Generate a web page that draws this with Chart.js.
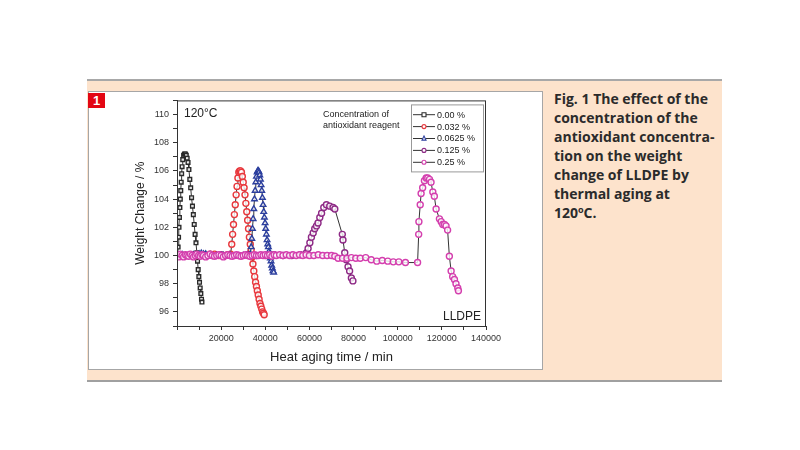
<!DOCTYPE html>
<html><head><meta charset="utf-8">
<script src="https://cdn.jsdelivr.net/npm/chart.js@4.4.1/dist/chart.umd.min.js"></script>
<style>
html,body{margin:0;padding:0;background:#fff;width:800px;height:450px;overflow:hidden;}
#panel{position:absolute;left:87px;top:79px;width:635px;height:299px;background:#fde3cc;border-top:2px solid #a8a8a8;border-bottom:2px solid #a0a0a0;}
#box{position:absolute;left:88px;top:91px;width:455px;height:279px;background:#fff;border:1px solid #a6a6a6;box-sizing:border-box;}
#badge{position:absolute;left:88px;top:93px;width:17px;height:15px;background:#e30613;color:#fff;font:bold 13px 'Liberation Sans',Arial,sans-serif;text-align:center;line-height:15px;z-index:3;}
#cap{position:absolute;left:554px;top:89px;font:bold 14px 'Open Sans',sans-serif;line-height:19px;color:#2b2b2b;white-space:nowrap;}
#cap sup{font-size:9px;vertical-align:5px;line-height:0;}
#c{position:absolute;left:88px;top:91px;z-index:2;}
</style></head>
<body>
<div id="panel"></div>
<div id="box"></div>
<canvas id="c" width="455" height="279"></canvas>
<div id="badge">1</div>
<div id="cap">Fig. 1 The effect of the<br>concentration of the<br>antioxidant concentra-<br>tion on the weight<br>change of LLDPE by<br>thermal aging at<br>120<sup>o</sup>C.</div>
<script>
// ---- data (heat aging time / min, weight change / %) ----
const seriesNames = ['0.00 %', '0.032 %', '0.0625 %', '0.125 %', '0.25 %'];

const tBlack = [300,500,700,900,1100,1300,1500,1700,1900,2100,2300,2600,3000,3400,3800,4200,4600,5000,5400,5800,6200,6600,7000,7400,7800,8200,8600,9000,9300,9600,9900,10200,10500,10800,11100,11300];
const wBlack = [100.0,100.6,101.3,102.0,102.7,103.4,104.0,104.6,105.2,105.8,106.3,106.8,107.1,107.2,107.2,107.1,106.9,106.6,106.1,105.4,104.8,104.1,103.5,102.9,102.2,101.5,100.9,100.2,99.6,99.0,98.5,98.1,97.7,97.3,96.9,96.7];

const tRed = [0,3000,6000,9000,12000,15000,17000,19000,21000,23000,24300,24800,25200,25600,26000,26400,26800,27200,27600,28000,28400,28800,29200,29600,30000,30400,30800,31200,31600,32000,32400,32800,33200,33600,34000,34400,34800,35200,35600,36000,36400,36800,37200,37600,38000,38400,38800,39200,39500];
const wRed = [100.0,100.0,100.05,100.0,100.05,100.1,100.1,100.0,100.0,100.05,100.1,100.8,101.5,102.2,102.9,103.6,104.3,104.9,105.5,105.9,106.0,106.0,105.9,105.6,105.2,104.8,104.3,103.7,103.1,102.5,101.9,101.3,100.8,100.4,99.9,99.4,98.9,98.5,98.1,97.8,97.5,97.2,96.9,96.6,96.4,96.2,96.0,95.9,95.8];

const tBlue = [0,2500,5000,7500,10000,11000,12000,13000,15000,18000,21000,24000,27000,30000,32000,33200,33600,33900,34200,34500,34800,35100,35400,35700,36000,36300,36600,36900,37200,37500,37800,38100,38400,38700,39000,39300,39600,39900,40200,40500,40800,41100,41400,41700,42000,42300,42600,42900,43200,43500,43800];
const wBlue = [100.0,100.05,100.0,100.05,100.1,100.15,100.1,100.1,100.05,100.0,100.0,100.05,100.0,100.0,100.05,100.1,100.6,101.2,101.9,102.6,103.3,104.0,104.6,105.2,105.6,105.9,106.0,106.0,105.9,105.7,105.4,105.0,104.6,104.1,103.6,103.1,102.7,102.3,101.9,101.5,101.1,100.8,100.6,100.3,100.1,99.8,99.6,99.3,99.1,98.9,98.8];

const tPurple = [0,4000,8000,12000,16000,20000,24000,28000,32000,36000,40000,44000,48000,52000,56000,58700,59400,60200,60900,61700,62400,63200,63900,64700,65500,66500,67700,69200,70700,71500,74900,75200,76000,76700,77500,78200,79000,79700];
const wPurple = [100.0,100.0,100.05,100.0,100.0,100.05,100.0,100.0,100.05,100.0,100.0,100.05,100.0,100.0,100.05,100.2,100.5,100.9,101.3,101.6,101.9,102.1,102.3,102.7,103.0,103.4,103.6,103.5,103.4,103.3,101.5,101.1,100.2,99.7,99.2,98.9,98.4,98.2];

const tMagenta = [0,800,1500,2300,3000,3800,4500,5300,6000,6800,7500,8300,9000,9800,10500,11300,12000,13000,14000,15000,16000,17000,18000,19000,20000,21000,22000,23000,24000,25000,26000,27000,28000,29000,30000,31000,32000,33000,34000,35000,36000,37000,38000,39000,40000,41000,42000,43000,44000,45000,46500,48000,49500,51000,52500,54000,55500,57000,58500,60000,62000,64000,66000,68000,70000,71500,73000,75000,77000,79000,81000,83000,85500,88000,90500,93000,95500,98000,100500,103500,109000,109500,109600,110200,110600,111300,112100,112900,113600,114400,115100,115900,116600,117400,118900,119700,120400,121200,121900,122600,123400,124200,124900,125700,126400,127200,127500];
const wMagenta = [100.0,99.9,100.1,100.0,99.9,100.05,100.0,99.95,100.1,100.0,99.9,100.0,100.1,100.0,99.95,100.05,100.0,99.9,100.0,100.1,100.0,99.95,100.0,100.05,100.0,99.9,100.0,100.05,100.0,99.95,100.0,100.05,100.0,99.95,100.0,100.05,100.0,99.95,100.0,100.05,100.0,100.0,100.05,100.0,100.05,100.0,100.05,99.95,100.05,100.0,100.05,100.0,100.05,100.0,100.05,100.0,100.05,100.0,100.05,100.0,100.0,100.05,100.0,100.0,100.0,99.95,99.8,99.8,99.8,99.85,99.8,99.8,99.85,99.7,99.6,99.65,99.6,99.55,99.55,99.5,99.5,101.5,102.4,103.6,104.4,104.8,105.3,105.5,105.5,105.4,105.2,104.5,104.2,103.3,102.6,102.4,102.2,102.2,102.1,101.8,99.95,98.9,98.5,98.3,98.0,97.7,97.5];

const xTickLabels = ['20000','40000','60000','80000','100000','120000','140000'];
const yTickLabels = ['96','98','100','102','104','106','108','110'];

const colors = ['#2a2a2a', '#e8383d', '#2c3f9e', '#8e2a86', '#d43fae'];
const styles = ['rect', 'circle', 'triangle', 'circle', 'circle'];
const tArr = [tBlack, tRed, tBlue, tPurple, tMagenta];
const wArr = [wBlack, wRed, wBlue, wPurple, wMagenta];
const orders = [5, 4, 3, 2, 1];

const datasets = seriesNames.map((name, i) => ({
  label: name,
  data: tArr[i].map((x, j) => ({x: x, y: wArr[i][j]})),
  showLine: true,
  borderColor: '#333',
  borderWidth: 1,
  pointStyle: styles[i],
  pointRadius: styles[i] === 'rect' ? 2.6 : (styles[i] === 'triangle' ? 3.2 : 3),
  pointBorderColor: colors[i],
  pointBorderWidth: 1.4,
  pointBackgroundColor: 'rgba(255,255,255,0.8)',
  order: orders[i]
}));

function mark(ctx, style, x, y, r, color) {
  ctx.save();
  ctx.strokeStyle = color; ctx.fillStyle = '#fff'; ctx.lineWidth = 1.1;
  ctx.beginPath();
  if (style === 'rect') ctx.rect(x - r, y - r, 2 * r, 2 * r);
  else if (style === 'triangle') { ctx.moveTo(x, y - r * 1.2); ctx.lineTo(x + r, y + r * 0.8); ctx.lineTo(x - r, y + r * 0.8); ctx.closePath(); }
  else ctx.arc(x, y, r, 0, Math.PI * 2);
  ctx.fill(); ctx.stroke(); ctx.restore();
}

const decor = {
  id: 'decor',
  afterDraw(chart) {
    const ctx = chart.ctx, a = chart.chartArea;
    ctx.save();
    ctx.strokeStyle = '#333'; ctx.lineWidth = 1;
    ctx.strokeRect(a.left + 0.5, a.top + 0.5, a.right - a.left - 1, a.bottom - a.top);
    ctx.fillStyle = '#222';
    ctx.textBaseline = 'middle';
    ctx.font = '12px "Liberation Sans", Arial, sans-serif';
    ctx.textAlign = 'left';
    ctx.fillText('120°C', a.left + 7, a.top + 13);
    ctx.textAlign = 'right';
    ctx.fillText('LLDPE', a.right - 5, a.bottom - 9);
    ctx.font = '9px "Liberation Sans", Arial, sans-serif';
    ctx.textAlign = 'left';
    ctx.fillText('Concentration of', a.left + 146, a.top + 14);
    ctx.fillText('antioxidant reagent', a.left + 146, a.top + 25);
    // legend box
    const bx = a.left + 234, by = a.top + 4, bw = 72, bh = 67;
    ctx.strokeStyle = '#999'; ctx.lineWidth = 1;
    ctx.strokeRect(bx + 0.5, by + 0.5, bw, bh);
    seriesNames.forEach((n, i) => {
      const y = by + 10.3 + i * 11.9;
      ctx.strokeStyle = '#333'; ctx.lineWidth = 1;
      ctx.beginPath(); ctx.moveTo(bx + 2, y); ctx.lineTo(bx + 24, y); ctx.stroke();
      mark(ctx, styles[i], bx + 13, y, 2, colors[i]);
      ctx.fillStyle = '#222';
      ctx.fillText(n, bx + 26, y + 0.5);
    });
    ctx.restore();
  }
};

new Chart(document.getElementById('c'), {
  type: 'scatter',
  data: {datasets},
  options: {
    responsive: false,
    animation: false,
    layout: {padding: {top: 8, right: 57, left: 0, bottom: 0}},
    plugins: {legend: {display: false}, tooltip: {enabled: false}},
    scales: {
      x: {
        type: 'linear', min: 0, max: 140000,
        afterFit: s => { s.height = 44; },
        grid: {drawOnChartArea: false, drawTicks: true, tickLength: 4, color: '#333'},
        border: {color: '#333', width: 1},
        ticks: {
          stepSize: 10000, autoSkip: false, maxRotation: 0, padding: 3,
          color: '#333', font: {family: '"Liberation Sans", Arial, sans-serif', size: 9},
          callback: v => { const k = xTickLabels.indexOf(String(v)); return k >= 0 ? xTickLabels[k] : ''; }
        },
        title: {display: true, text: 'Heat aging time / min', color: '#222',
          font: {family: '"Liberation Sans", Arial, sans-serif', size: 13}, padding: {top: 0, bottom: 5}}
      },
      y: {
        type: 'linear', min: 95, max: 111,
        afterFit: s => { s.width = 89; },
        grid: {drawOnChartArea: false, drawTicks: true, tickLength: 4, color: '#333'},
        border: {color: '#333', width: 1},
        ticks: {
          stepSize: 1, autoSkip: false, padding: 4,
          color: '#333', font: {family: '"Liberation Sans", Arial, sans-serif', size: 9},
          callback: v => { const k = yTickLabels.indexOf(String(v)); return k >= 0 ? yTickLabels[k] : ''; }
        },
        title: {display: true, text: 'Weight Change / %', color: '#222',
          font: {family: '"Liberation Sans", Arial, sans-serif', size: 12}, padding: {top: 45, bottom: 0}}
      }
    }
  },
  plugins: [decor]
});
</script>
</body></html>
